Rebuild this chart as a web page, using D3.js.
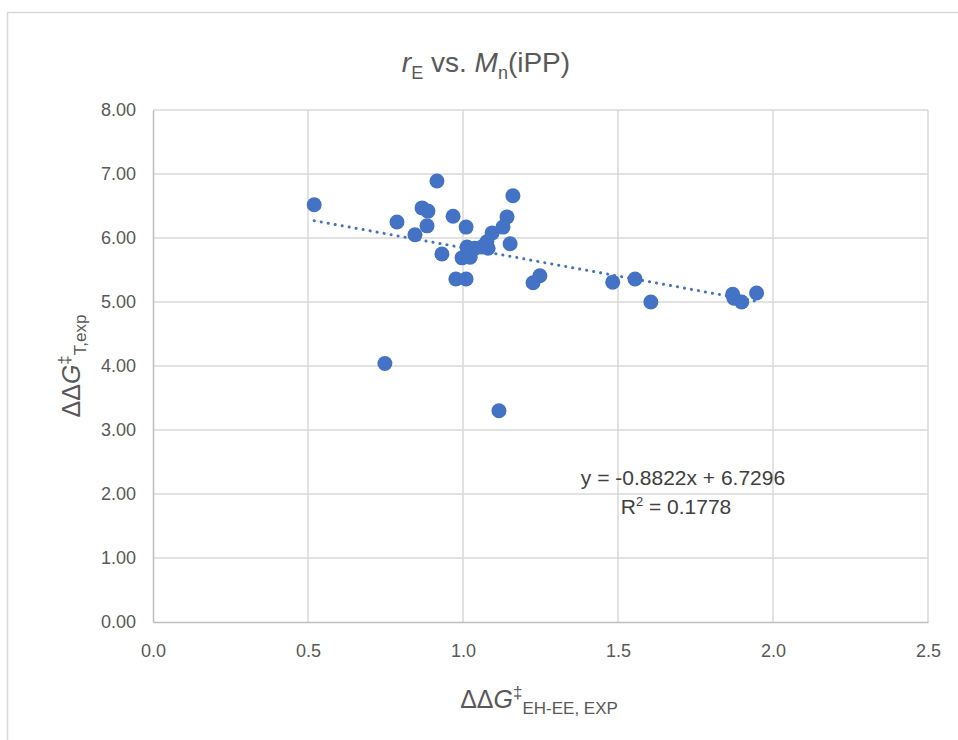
<!DOCTYPE html>
<html><head><meta charset="utf-8">
<script src="https://cdn.jsdelivr.net/npm/d3@7"></script>
<style>body{margin:0;background:#fff}svg{display:block}</style>
</head><body>
<script>
const xValues = [0.52,0.748,1.116,0.787,0.868,0.887,0.884,0.845,0.916,0.932,0.968,0.977,1.010,1.010,1.161,1.142,1.129,1.094,1.077,1.061,1.152,1.013,1.039,1.081,0.997,1.023,1.226,1.248,1.483,1.555,1.606,1.870,1.874,1.899,1.947];
const yValues = [6.52,4.04,3.30,6.25,6.47,6.42,6.19,6.05,6.89,5.75,6.34,5.36,5.36,6.17,6.66,6.33,6.17,6.08,5.94,5.86,5.91,5.86,5.84,5.84,5.69,5.70,5.30,5.41,5.31,5.36,5.00,5.12,5.06,5.00,5.14];
const xTicks = [0,0.5,1.0,1.5,2.0,2.5];
const yTicks = [0,1,2,3,4,5,6,7,8];
const slope = -0.8822, intercept = 6.7296, r2 = 0.1778;

const W = 958, H = 740;
const svg = d3.select("body").append("svg").attr("width", W).attr("height", H);
svg.append("rect").attr("x",7.5).attr("y",12.5).attr("width",960).attr("height",740)
  .attr("fill","#fff").attr("stroke","#d9d9d9").attr("stroke-width",1.5);

const x = d3.scaleLinear().domain([0,2.5]).range([153,928]);
const y = d3.scaleLinear().domain([0,8]).range([622,110]);
const font = "Liberation Sans, Arial, sans-serif";

// gridlines
svg.append("g").selectAll("line").data(yTicks.filter(d=>d>0)).join("line")
  .attr("x1",x(0)).attr("x2",x(2.5)).attr("y1",d=>y(d)).attr("y2",d=>y(d))
  .attr("stroke","#d9d9d9").attr("stroke-width",1.5);
svg.append("g").selectAll("line").data(xTicks.filter(d=>d>0)).join("line")
  .attr("x1",d=>x(d)).attr("x2",d=>x(d)).attr("y1",y(0)).attr("y2",y(8))
  .attr("stroke","#d9d9d9").attr("stroke-width",1.5);

// axes
const xAxis = d3.axisBottom(x).tickValues(xTicks).tickFormat(d3.format(".1f")).tickSize(0).tickPadding(22);
const yAxis = d3.axisLeft(y).tickValues(yTicks).tickFormat(d3.format(".2f")).tickSize(0).tickPadding(17);
const gx = svg.append("g").attr("transform",`translate(0,${y(0)})`).call(xAxis);
const gy = svg.append("g").attr("transform",`translate(${x(0)},0)`).call(yAxis);
[gx,gy].forEach(g=>{
  g.select(".domain").attr("stroke","#bfbfbf").attr("stroke-width",1.5);
  g.selectAll("text").attr("fill","#595959").attr("font-size",18).attr("font-family",font);
});

// trendline
const xr = d3.extent(xValues);
svg.append("line")
  .attr("x1",x(xr[0])).attr("y1",y(slope*xr[0]+intercept))
  .attr("x2",x(xr[1])).attr("y2",y(slope*xr[1]+intercept))
  .attr("stroke","#4472c4").attr("stroke-width",3)
  .attr("stroke-dasharray","0.1 7").attr("stroke-linecap","round");

// points
svg.append("g").selectAll("circle").data(xValues.map((d,i)=>[d,yValues[i]])).join("circle")
  .attr("cx",d=>x(d[0])).attr("cy",d=>y(d[1])).attr("r",7.5).attr("fill","#4472c4");

// equation
const eq = svg.append("text").attr("font-family",font).attr("font-size",21).attr("fill","#404040").attr("text-anchor","middle");
eq.append("tspan").attr("x",683).attr("y",485).text(`y = ${slope}x + ${intercept}`);
const r2t = eq.append("tspan").attr("x",676).attr("y",514);
r2t.append("tspan").text("R");
r2t.append("tspan").attr("font-size",13).attr("dy",-8).text("2");
r2t.append("tspan").attr("dy",8).text(` = ${r2}`);

// title
const t = svg.append("text").attr("x",486).attr("y",72).attr("text-anchor","middle")
  .attr("font-family",font).attr("font-size",28).attr("fill","#595959");
t.append("tspan").attr("font-style","italic").text("r");
t.append("tspan").attr("font-size",18).attr("dy",7).text("E");
t.append("tspan").attr("dy",-7).text(" vs. ");
t.append("tspan").attr("font-style","italic").text("M");
t.append("tspan").attr("font-size",18).attr("dy",7).text("n");
t.append("tspan").attr("dy",-7).text("(iPP)");

// y label
const yl = svg.append("text").attr("transform","translate(80,366) rotate(-90)").attr("text-anchor","middle")
  .attr("font-family",font).attr("font-size",25).attr("fill","#595959");
yl.append("tspan").text("ΔΔ");
yl.append("tspan").attr("font-style","italic").text("G");
yl.append("tspan").attr("font-size",17).attr("dy",-10).text("‡");
yl.append("tspan").attr("font-size",17).attr("dy",16).text("T,exp");

// x label
const xl = svg.append("text").attr("x",539).attr("y",708).attr("text-anchor","middle")
  .attr("font-family",font).attr("font-size",25).attr("fill","#595959");
xl.append("tspan").text("ΔΔ");
xl.append("tspan").attr("font-style","italic").text("G");
xl.append("tspan").attr("font-size",17).attr("dy",-10).text("‡");
xl.append("tspan").attr("font-size",17).attr("dy",16).text("EH-EE, EXP");
</script>
</body></html>
